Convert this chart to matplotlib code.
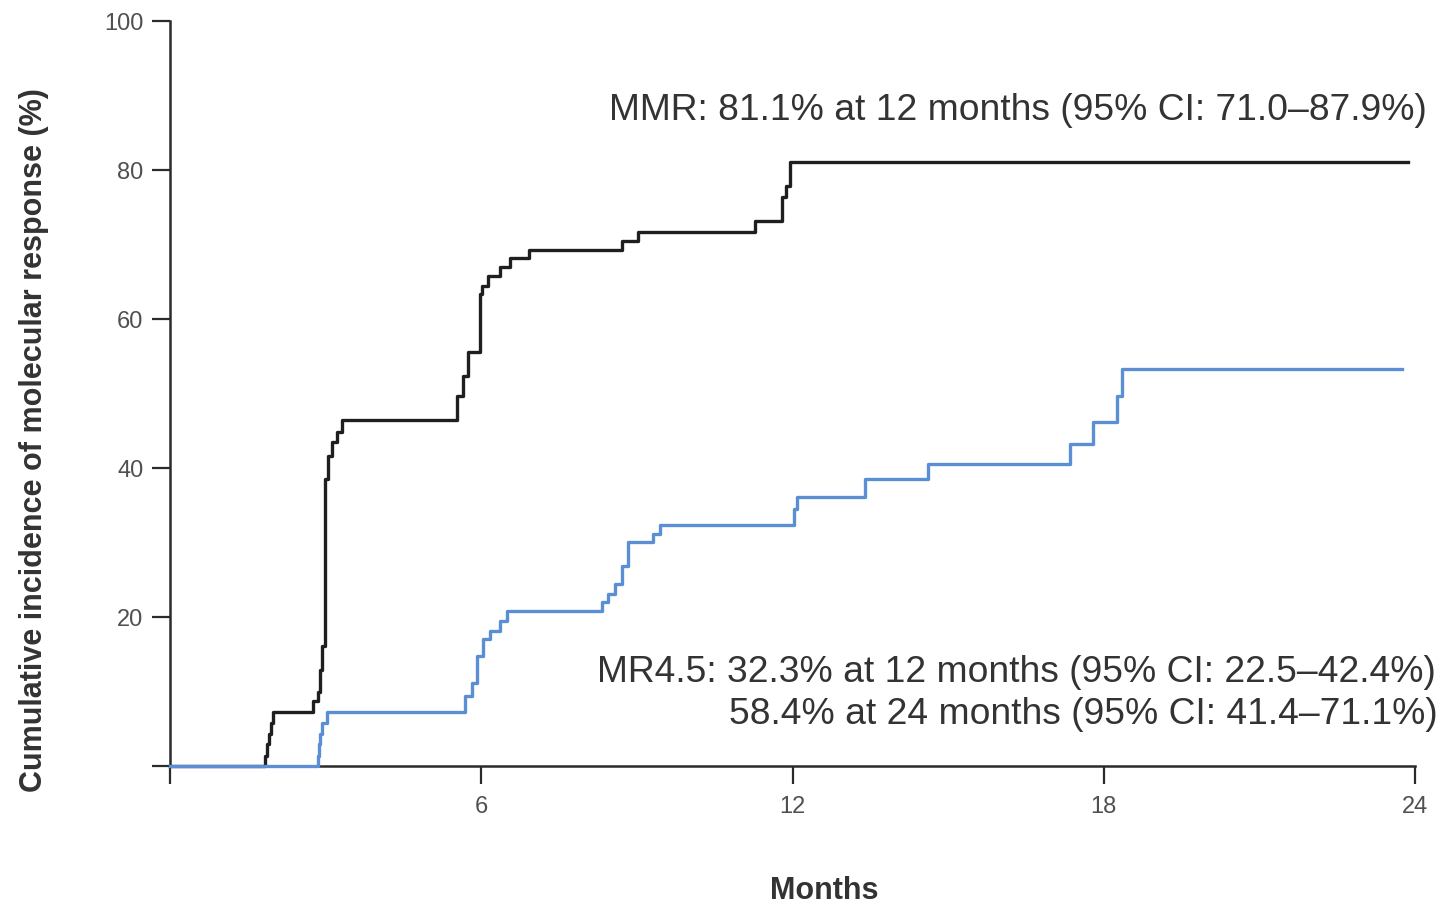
import matplotlib
matplotlib.use("Agg")
import matplotlib.pyplot as plt

plt.rcParams["font.family"] = ["Liberation Sans", "DejaVu Sans"]

# Cumulative incidence of MMR (step function: value reached at each time)
mmr_months = [0, 1.83, 1.87, 1.91, 1.95, 1.99, 2.76, 2.85, 2.90, 2.93, 2.99,
              3.05, 3.12, 3.22, 3.32, 5.53, 5.65, 5.74, 5.98, 6.01, 6.13,
              6.36, 6.55, 6.92, 8.71, 9.02, 11.28, 11.80, 11.87, 11.95, 23.87]
mmr_pct = [0, 1.4, 2.9, 4.3, 5.8, 7.2, 8.7, 10.0, 12.9, 16.1, 38.5,
           41.6, 43.5, 44.8, 46.4, 49.7, 52.3, 55.6, 63.4, 64.4, 65.8,
           67.0, 68.2, 69.3, 70.5, 71.7, 73.2, 76.4, 77.8, 81.1, 81.1]

# Cumulative incidence of MR4.5
mr45_months = [0, 2.86, 2.88, 2.90, 2.93, 3.02, 5.69, 5.82, 5.92, 6.03, 6.17,
               6.36, 6.50, 8.33, 8.44, 8.58, 8.71, 8.83, 9.31, 9.45, 12.02,
               12.08, 13.40, 14.61, 17.35, 17.79, 18.26, 18.35, 23.75]
mr45_pct = [0, 1.4, 2.9, 4.3, 5.8, 7.2, 9.4, 11.2, 14.8, 17.0, 18.1,
            19.5, 20.8, 22.0, 23.1, 24.4, 26.8, 30.1, 31.1, 32.3, 34.5,
            36.1, 38.5, 40.5, 43.2, 46.2, 49.7, 53.3, 53.3]

x_ticks = [0, 6, 12, 18, 24]
x_tick_labels = ["", "6", "12", "18", "24"]
y_ticks = [0, 20, 40, 60, 80, 100]
y_tick_labels = ["", "20", "40", "60", "80", "100"]

mmr_note = "MMR: 81.1% at 12 months (95% CI: 71.0\u201387.9%)"
mr45_note_1 = "MR4.5: 32.3% at 12 months (95% CI: 22.5\u201342.4%)"
mr45_note_2 = "58.4% at 24 months (95% CI: 41.4\u201371.1%)"

W, H = 1445, 904
fig = plt.figure(figsize=(W / 100, H / 100), dpi=100)
fig.patch.set_facecolor("white")
ax = fig.add_axes([170 / W, 1 - 767 / H, (1415 - 170) / W, (767 - 22) / H])

ax.step(mmr_months, mmr_pct, where="post", color="#1f1f1f", lw=2.4,
        zorder=3, clip_on=False)
ax.step(mr45_months, mr45_pct, where="post", color="#5b8fd5", lw=2.4,
        zorder=4, clip_on=False)

ax.set_xlim(0, 24)
ax.set_ylim(0, 100)
for side in ("top", "right"):
    ax.spines[side].set_visible(False)
for side in ("left", "bottom"):
    ax.spines[side].set_linewidth(1.8)
    ax.spines[side].set_color("#2b2b2b")

ax.set_xticks(x_ticks)
ax.set_xticklabels(x_tick_labels)
ax.set_yticks(y_ticks)
ax.set_yticklabels(y_tick_labels)
ax.tick_params(direction="out", length=13, width=1.6, color="#2b2b2b",
               labelsize=17, labelcolor="#505050")
ax.tick_params(axis="x", pad=8)
ax.tick_params(axis="y", pad=6)

ax.set_xlabel("Months", fontsize=22, fontweight="bold", color="#333333")
ax.xaxis.set_label_coords((824 - 170) / (1415 - 170), -0.146)
ax.set_ylabel("Cumulative incidence of molecular response (%)", fontsize=22,
              fontweight="bold", color="#333333")
ax.yaxis.set_label_coords(-0.097, (767 - 440) / (767 - 22))

fig.text(1427 / W, 1 - 120 / H, mmr_note, ha="right", va="baseline",
         fontsize=26.8, color="#333333")
fig.text(1436 / W, 1 - 682 / H, mr45_note_1, ha="right", va="baseline",
         fontsize=26.8, color="#333333")
fig.text(1438 / W, 1 - 724 / H, mr45_note_2, ha="right", va="baseline",
         fontsize=26.8, color="#333333")

fig.savefig("out.png", dpi=100, facecolor="white")
